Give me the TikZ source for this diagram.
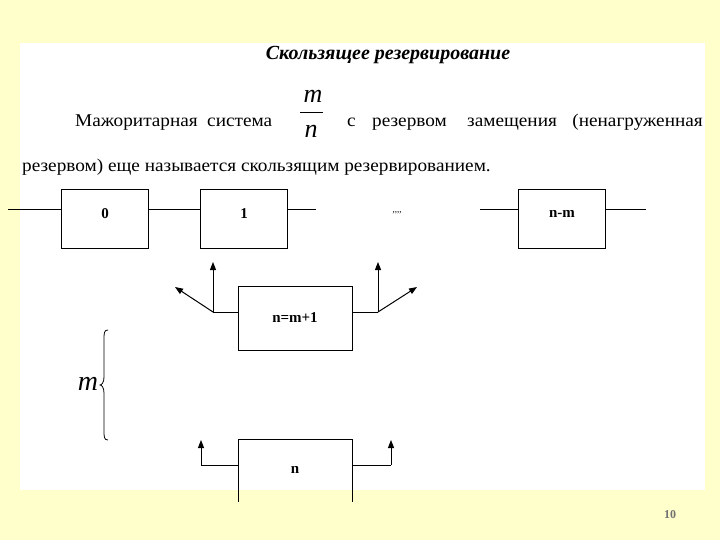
\documentclass[tikz,border=0pt]{standalone}
\usepackage{fontspec}
\setmainfont{Liberation Serif}
\newfontfamily\ser{Liberation Serif}
\usetikzlibrary{arrows.meta}
\definecolor{bgyellow}{HTML}{FFFFCC}
\definecolor{pagegray}{HTML}{707070}
\newcommand{\wid}[1]{\scalebox{1.07}[1]{#1}}
\tikzset{
  blk/.style={draw=black, line width=1pt, minimum width=87pt, minimum height=58pt, inner sep=0pt},
  wblk/.style={blk, minimum width=114pt, minimum height=64pt},
  lab/.style={inner sep=0pt, font=\ser\fontsize{15}{17}\selectfont\bfseries},
  wire/.style={draw=black, line width=1pt},
  arr/.style={wire, -{Triangle[length=8pt,width=6pt]}},
  body/.style={inner sep=0pt, font=\ser\fontsize{18}{20}\selectfont},
}
\begin{document}
\begin{tikzpicture}[x=1pt,y=-1pt]
\useasboundingbox (0,0) rectangle (720,540);
\fill[bgyellow] (0,0) rectangle (720,540);
\fill[white] (20,43) rectangle (705,490);
% title
\node[inner sep=0pt, anchor=base, font=\ser\fontsize{20}{24}\selectfont\bfseries\itshape] (title) at (388,60) {Скользящее резервирование};
% text line 2
\node[body, anchor=base west] (w1) at (75,127) {\wid{Мажоритарная}};
\node[body, anchor=base west] (w2) at (207,127) {\wid{система}};
\node[inner sep=0pt, font=\ser\fontsize{26}{28}\selectfont\itshape] (fm) at (313,96) {m};
\node[inner sep=0pt, font=\ser\fontsize{26}{28}\selectfont\itshape] (fn) at (311,131) {n};
\coordinate (barL) at (300,113);
\coordinate (barR) at (323,113);
\draw[line width=1pt] (barL) -- (barR);
\node[body, anchor=base west] (w3) at (347,127) {\wid{с}};
\node[body, anchor=base west] (w4) at (372,127) {\wid{резервом}};
\node[body, anchor=base west] (w5) at (467,127) {\wid{замещения}};
\node[body, anchor=base east] (w6) at (703,127) {\wid{(ненагруженная}};
% text line 3
\node[body, anchor=base west] (l3) at (22,172) {\wid{резервом) еще называется скользящим резервированием.}};
% top row
\node[blk] (b0) at (105,219) {};
\node[blk] (b1) at (244,219) {};
\node[blk] (bnm) at (562,219) {};
\node[lab] (t0) at (b0.center |- 0,214) {0};
\node[lab] (t1) at (b1.center |- 0,214) {1};
\node[lab] (tnm) at (bnm.center |- 0,214) {n-m};
\node[inner sep=0pt, font=\ser\fontsize{9}{10}\selectfont] (dots) at (397,213) {,,,,};
\coordinate (inL) at (8,210);
\coordinate (o1) at (316,210);
\coordinate (i3) at (480,210);
\coordinate (outR) at (646,210);
\draw[wire] (inL) -- (inL -| b0.west);
\draw[wire] (b0.east |- inL) -- (b1.west |- inL);
\draw[wire] (b1.east |- inL) -- (o1);
\draw[wire] (i3) -- (bnm.west |- i3);
\draw[wire] (bnm.east |- outR) -- (outR);
% n=m+1 block
\node[wblk] (bm1) at (295,318) {};
\node[lab] (tm1) at (bm1.center) {n=m+1};
\coordinate (jl) at (213,312);
\coordinate (jr) at (378,312);
\coordinate (tl) at (213,262);
\coordinate (tr) at (378,262);
\coordinate (dl) at (175,287);
\coordinate (dr) at (417,287);
\draw[wire] (bm1.west |- jl) -- (jl);
\draw[wire] (bm1.east |- jr) -- (jr);
\draw[arr] (jl) -- (tl);
\draw[arr] (jl) -- (dl);
\draw[arr] (jr) -- (tr);
\draw[arr] (jr) -- (dr);
% brace and m
\node[inner sep=0pt, font=\ser\fontsize{28}{30}\selectfont\itshape] (mlab) at (88,384) {m};
\coordinate (brT) at (108,330);
\coordinate (brM) at (100,385);
\coordinate (brB) at (108,440);
\draw[line width=0.8pt] (brT) .. controls (104,330) and (104,333) .. (104,340)
  -- (104,377) .. controls (104,382) and (102,385) .. (brM)
  .. controls (102,385) and (104,388) .. (104,393)
  -- (104,430) .. controls (104,437) and (104,440) .. (brB);
% n block (open at bottom)
\coordinate (nTL) at (238,439);
\coordinate (nTR) at (352,439);
\coordinate (nBL) at (238,502);
\coordinate (nBR) at (352,502);
\draw[wire] (nBL) -- (nTL) -- (nTR) -- (nBR);
\node[lab] (nlab) at (295,470) {n};
\coordinate (al) at (201,465);
\coordinate (alt) at (201,440);
\coordinate (ar) at (391,465);
\coordinate (art) at (391,440);
\draw[wire] (nTL |- al) -- (al);
\draw[arr] (al) -- (alt);
\draw[wire] (nTR |- ar) -- (ar);
\draw[arr] (ar) -- (art);
% page number
\node[inner sep=0pt, text=pagegray, font=\ser\fontsize{12}{14}\selectfont\bfseries] (pg) at (670,515) {10};
\end{tikzpicture}
\end{document}
